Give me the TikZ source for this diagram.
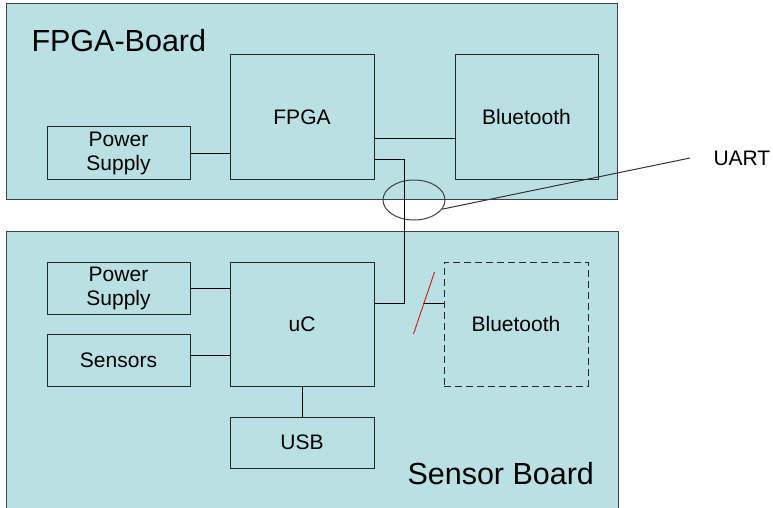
\documentclass[tikz,border=0pt]{standalone}
\usepackage{fontspec}
\setmainfont{Liberation Sans}
\usetikzlibrary{shapes.geometric}
\definecolor{boardfill}{HTML}{B9E0E3}

\begin{document}
\begin{tikzpicture}[x=1pt, y=-1pt, line width=1pt,
  board/.style={draw=black!75, fill=boardfill},
  box/.style={draw=black!85, fill=boardfill, font=\fontsize{21}{24}\selectfont, align=center, inner sep=0pt},
  title/.style={font=\fontsize{30.5}{36}\selectfont, anchor=west, inner sep=0pt}]
\useasboundingbox (0,0) rectangle (773,508);
\draw[board] (6,4) rectangle (617,199);
\draw[board] (6,231) rectangle (618,520);
\node[title] (fpgaboard) at (31,41) {FPGA-Board};
\node[title] (sensorboard) at (407,474) {Sensor Board};

\node[box, minimum width=143pt, minimum height=52pt] (ps1) at (118.5,153) {Power\\Supply};
\node[box, minimum width=144pt, minimum height=124pt] (fpga) at (302,117) {FPGA};
\node[box, minimum width=143pt, minimum height=124pt] (bt1) at (526.5,117) {Bluetooth};

\node[box, minimum width=143pt, minimum height=52pt] (ps2) at (118.5,288) {Power\\Supply};
\node[box, minimum width=143pt, minimum height=52pt] (sens) at (118.5,360) {Sensors};
\node[box, minimum width=144pt, minimum height=124pt] (uc) at (302,324) {uC};
\node[box, minimum width=144pt, minimum height=51pt] (usb) at (302,442.5) {USB};
\node[box, dash pattern=on 7pt off 4pt, minimum width=144pt, minimum height=124pt] (bt2) at (516,324) {Bluetooth};

\draw (ps1.east) -- (ps1.east -| fpga.west);
\draw ([yshift=-21pt]fpga.east) -- ([yshift=-21pt]fpga.east -| bt1.west);
\draw ([yshift=-42pt]fpga.east) -- ++(30pt,0) |- ([yshift=21pt]uc.east);
\draw (ps2.east) -- (ps2.east -| uc.west);
\draw ([yshift=5pt]sens.east) -- ([yshift=5pt]sens.east -| uc.west);
\draw (uc) -- (usb);
\draw ([yshift=21pt]bt2.west) -- ++(-21pt,0);
\draw[red!80!black!90, line width=0.9pt] ([shift={(-30pt,-10pt)}]bt2.west) -- ([shift={(-9pt,52pt)}]bt2.west);

\node[ellipse, draw=black!75, minimum width=62pt, minimum height=40pt] (uart) at (414,200) {};
\node[box, draw=none, fill=none, anchor=west] (uartlabel) at (713,158) {UART};
\draw[black!80] (uart.-18) -- ([xshift=-23pt]uartlabel.west);
\end{tikzpicture}
\end{document}
